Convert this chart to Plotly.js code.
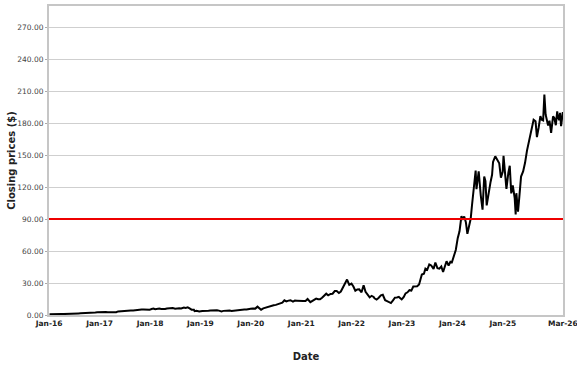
<!DOCTYPE html>
<html>
<head>
<meta charset="utf-8">
<script src="https://cdn.plot.ly/plotly-3.0.1.min.js"></script>
<style>html,body{margin:0;padding:0;background:#fff;}#chart{width:577px;height:367px;}</style>
</head>
<body>
<div id="chart"></div>
<script>
const dates = [
"2016-01-04","2016-01-20","2016-02-01","2016-02-12","2016-03-01","2016-03-15","2016-04-01","2016-04-15","2016-05-02","2016-05-16","2016-06-01","2016-06-15","2016-07-01","2016-07-15","2016-08-01","2016-08-15","2016-09-01","2016-09-15","2016-10-03","2016-10-17","2016-11-01","2016-11-14","2016-12-01","2016-12-15","2016-12-30",
"2017-01-13","2017-02-01","2017-02-15","2017-03-01","2017-03-15","2017-04-03","2017-04-17","2017-05-01","2017-05-15","2017-06-01","2017-06-15","2017-07-03","2017-07-17","2017-08-01","2017-08-15","2017-09-01","2017-09-15","2017-10-02","2017-10-16","2017-11-01","2017-11-15","2017-12-01","2017-12-15","2017-12-29",
"2018-01-12","2018-01-26","2018-02-08","2018-02-22","2018-03-09","2018-03-23","2018-04-06","2018-04-20","2018-05-04","2018-05-18","2018-06-01","2018-06-15","2018-07-02","2018-07-16","2018-08-01","2018-08-15","2018-09-04","2018-09-17","2018-10-01","2018-10-15","2018-10-29","2018-11-15","2018-11-20","2018-12-03","2018-12-24",
"2019-01-15","2019-01-31","2019-02-15","2019-03-01","2019-03-15","2019-04-01","2019-04-15","2019-05-01","2019-05-15","2019-06-03","2019-06-17","2019-07-01","2019-07-15","2019-08-01","2019-08-15","2019-09-03","2019-09-16","2019-10-01","2019-10-15","2019-11-01","2019-11-15","2019-12-02","2019-12-16","2019-12-31",
"2020-01-15","2020-02-03","2020-02-19","2020-03-02","2020-03-16","2020-04-01","2020-04-15","2020-05-01","2020-05-15","2020-06-01","2020-06-15","2020-07-01","2020-07-15","2020-08-03","2020-08-17","2020-09-01","2020-09-15","2020-10-01","2020-10-15","2020-11-02","2020-11-16","2020-12-01","2020-12-15","2020-12-31",
"2021-01-15","2021-02-01","2021-02-16","2021-03-08","2021-03-22","2021-04-05","2021-04-19","2021-05-03","2021-05-17","2021-06-01","2021-06-15","2021-07-01","2021-07-15","2021-08-02","2021-08-16","2021-09-01","2021-09-15","2021-10-01","2021-10-15","2021-11-01","2021-11-15","2021-11-29","2021-12-15","2021-12-31",
"2022-01-14","2022-01-28","2022-02-11","2022-02-25","2022-03-14","2022-03-29","2022-04-12","2022-04-29","2022-05-12","2022-05-26","2022-06-10","2022-06-16","2022-07-01","2022-07-15","2022-08-01","2022-08-15","2022-09-01","2022-09-15","2022-09-30","2022-10-13","2022-10-28","2022-11-11","2022-11-25","2022-12-09","2022-12-30",
"2023-01-13","2023-01-27","2023-02-10","2023-02-24","2023-03-10","2023-03-24","2023-04-06","2023-04-21","2023-05-05","2023-05-25","2023-06-09","2023-06-20","2023-07-03","2023-07-18","2023-08-01","2023-08-18","2023-08-31","2023-09-15","2023-09-29","2023-10-13","2023-10-26","2023-11-09","2023-11-20","2023-12-05","2023-12-18","2023-12-29",
"2024-01-12","2024-01-26","2024-02-09","2024-02-22","2024-03-07","2024-03-19","2024-03-27","2024-04-08","2024-04-19","2024-05-01","2024-05-13","2024-05-23","2024-06-05","2024-06-18","2024-06-24","2024-07-10","2024-07-25","2024-08-07","2024-08-19","2024-08-28","2024-09-06","2024-09-20","2024-10-04","2024-10-15","2024-10-22","2024-11-07","2024-11-20","2024-12-06","2024-12-18","2024-12-31",
"2025-01-06","2025-01-27","2025-02-10","2025-02-20","2025-03-03","2025-03-14","2025-03-28","2025-04-04","2025-04-09","2025-04-21","2025-05-01","2025-05-13","2025-05-28","2025-06-11","2025-06-25","2025-07-10","2025-07-25","2025-08-12","2025-08-26","2025-09-05","2025-09-18","2025-09-30","2025-10-10","2025-10-20","2025-10-29","2025-11-07","2025-11-20","2025-11-25","2025-12-05","2025-12-17","2025-12-31",
"2026-01-09","2026-01-20","2026-01-30","2026-02-06","2026-02-13","2026-02-20","2026-02-27","2026-03-05","2026-03-12"
];
const closes = [
0.81,0.70,0.72,0.68,0.78,0.86,0.89,0.90,0.88,1.13,1.16,1.15,1.18,1.28,1.43,1.53,1.55,1.60,1.70,1.70,1.73,2.20,2.30,2.50,2.67,
2.60,2.83,2.75,2.53,2.58,2.70,2.50,2.60,3.40,3.63,3.88,3.58,4.13,4.13,4.13,4.13,4.50,4.50,4.88,5.18,5.13,4.88,4.78,4.84,
5.63,6.13,5.45,6.13,6.13,5.60,5.50,5.63,6.13,6.25,6.50,6.55,5.93,6.25,6.25,6.13,7.00,6.63,7.13,6.13,5.00,5.00,3.63,4.00,3.25,
3.75,3.60,3.88,3.93,4.30,4.55,4.63,4.50,4.13,3.43,3.88,4.13,4.25,4.13,3.75,4.18,4.50,4.38,4.88,5.13,5.25,5.13,5.75,5.88,
6.13,6.00,7.83,6.88,5.00,6.25,6.88,7.25,8.13,8.75,9.13,9.50,10.25,11.00,11.50,13.75,12.75,13.50,13.88,12.50,13.50,13.38,13.13,13.05,
13.10,13.10,15.00,12.00,13.40,14.00,15.40,14.75,14.75,16.25,18.00,20.00,18.50,19.80,20.00,22.50,22.50,20.70,22.00,26.50,30.00,33.30,28.30,29.40,
26.70,22.80,24.00,24.10,21.30,28.00,21.80,18.50,16.50,18.00,17.00,15.60,14.50,16.00,18.50,19.00,13.90,13.00,12.10,11.20,13.80,16.30,16.50,17.00,14.60,
16.80,20.30,21.30,23.30,22.90,26.70,27.00,27.00,28.70,38.00,38.70,43.50,42.40,47.40,46.50,43.30,49.30,44.00,43.50,45.50,40.30,46.90,50.50,46.50,50.00,49.50,
54.70,61.00,72.10,78.50,92.70,89.40,92.50,87.10,76.20,83.00,90.30,103.70,122.40,135.60,118.10,134.90,112.30,98.90,130.00,125.60,102.80,116.00,124.90,131.60,143.60,148.90,145.90,142.40,128.90,134.30,
149.40,118.40,133.60,140.10,114.10,121.70,109.70,94.30,114.30,96.90,111.60,129.90,134.80,142.80,154.30,164.10,173.50,183.20,181.80,167.00,176.20,186.60,183.20,182.60,207.00,188.20,180.60,177.80,182.40,170.90,186.50,
184.90,178.10,191.10,185.40,182.80,189.80,177.20,183.30,190.50
];
const threshold = 90;
const tickDates = ["2016-01-01","2017-01-01","2018-01-01","2019-01-01","2020-01-01","2021-01-01","2022-01-01","2023-01-01","2024-01-01","2025-01-01","2026-03-12"];
const tickLabels = ["Jan-16","Jan-17","Jan-18","Jan-19","Jan-20","Jan-21","Jan-22","Jan-23","Jan-24","Jan-25","Mar-26"];
const yTicks = [0,30,60,90,120,150,180,210,240,270];
const xStart = "2015-12-31", xEnd = "2026-03-13";

const traces = [
  {x: dates, y: closes, type: 'scatter', mode: 'lines', line: {color: '#000000', width: 2}, hoverinfo: 'skip'},
  {x: [xStart, xEnd], y: [threshold, threshold], type: 'scatter', mode: 'lines', line: {color: '#ee0000', width: 2}, hoverinfo: 'skip'}
];
const layout = {
  width: 577, height: 367,
  margin: {l: 49, r: 14, t: 6, b: 52},
  paper_bgcolor: '#ffffff', plot_bgcolor: '#ffffff',
  showlegend: false,
  font: {family: 'DejaVu Sans, sans-serif', color: '#333'},
  xaxis: {
    type: 'date', range: [xStart, xEnd],
    tickvals: tickDates, ticktext: tickLabels,
    tickfont: {size: 7.5, color: '#222', weight: 'bold'},
    ticklabeloverflow: 'allow',
    showgrid: false, zeroline: false,
    showline: true, mirror: true, linecolor: '#c6c6c6', linewidth: 2,
    ticks: '',
    title: {text: 'Date', font: {size: 10, color: '#222', weight: 'bold'}, standoff: 26}
  },
  yaxis: {
    range: [0, 290], tickvals: yTicks, tickformat: '.2f',
    tickfont: {size: 7.5, color: '#444'},
    showgrid: true, gridcolor: '#cfcfcf', gridwidth: 1,
    zeroline: false,
    showline: true, mirror: true, linecolor: '#c6c6c6', linewidth: 2,
    ticks: 'outside', ticklen: 2, tickcolor: '#aaa',
    title: {text: 'Closing prices ($)', font: {size: 10, color: '#222', weight: 'bold'}, standoff: 0}
  }
};
Plotly.newPlot('chart', traces, layout, {displayModeBar: false, staticPlot: true});
</script>
</body>
</html>
